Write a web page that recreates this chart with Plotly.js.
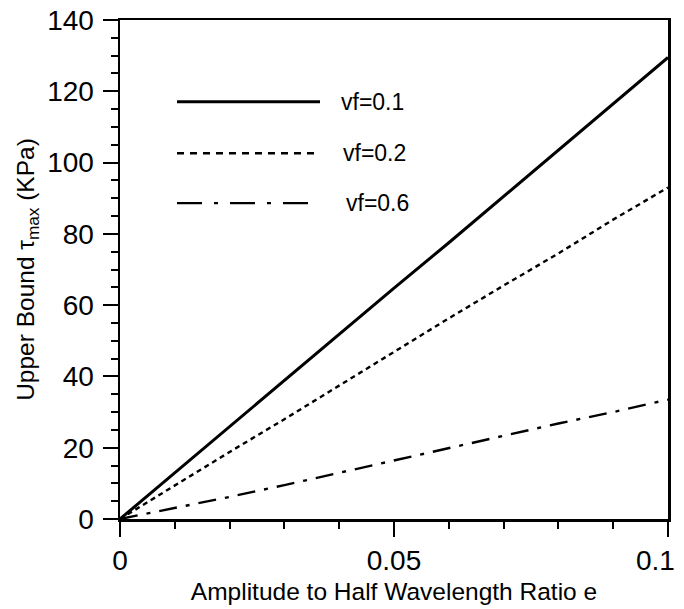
<!DOCTYPE html>
<html><head><meta charset="utf-8">
<script src="https://cdn.plot.ly/plotly-3.0.1.min.js"></script>
<style>body{margin:0;background:#fff}#plot{width:684px;height:609px}</style>
</head><body><div id="plot"></div>
<script>
const e = [0, 0.01, 0.02, 0.03, 0.04, 0.05, 0.06, 0.07, 0.08, 0.09, 0.1];
const vf01 = [0, 13, 26, 39, 52, 64.8, 77.5, 90.5, 103.5, 116.5, 129.5];
const vf02 = [0, 9.5, 18.8, 28, 37.5, 47, 56.3, 65.5, 74.5, 84, 93];
const vf06 = [0, 3, 6.2, 9.5, 13, 16.5, 20, 23.5, 26.8, 30, 33.5];
const seriesNames = ["vf=0.1", "vf=0.2", "vf=0.6"];
const xTickVals = [0, 0.05, 0.1];
const xTickText = ["0", "0.05", "0.1"];
const yTickVals = [0, 20, 40, 60, 80, 100, 120, 140];

const font = "Liberation Sans, Arial, Helvetica, sans-serif";
const dashes = ["solid", "5px,4px", "18px,9px,4px,9px"];
const legDashes = ["solid", "7px,6px", "25px,12px,4px,12px"];
const widths = [3, 2.4, 2.4];
const ys = [vf01, vf02, vf06];

const traces = ys.map((y, i) => ({
  x: e, y: y, type: "scatter", mode: "lines", name: seriesNames[i],
  line: {color: "#000", width: widths[i], dash: dashes[i]}, showlegend: false
}));

const legY = [0.836, 0.733, 0.633];
const shapes = [], annotations = [];
legY.forEach((yy, i) => {
  shapes.push({type: "line", xref: "paper", yref: "paper", x0: 0.104, x1: 0.365, y0: yy, y1: yy,
    line: {color: "#000", width: widths[i], dash: legDashes[i]}});
  annotations.push({xref: "paper", yref: "paper", x: 0.4 + (i === 2 ? 0.008 : (i === 1 ? 0.004 : 0)), y: yy,
    xanchor: "left", yanchor: "middle", text: seriesNames[i], showarrow: false,
    font: {family: font, size: 23, color: "#000"}});
});
// last x tick label, nudged left so it stays inside the page
const lastIdx = xTickVals.length - 1;
annotations.push({xref: "x", yref: "paper", x: xTickVals[lastIdx], y: 0, xanchor: "center", yanchor: "top",
  xshift: -13, yshift: -24, text: xTickText[lastIdx], showarrow: false,
  font: {family: font, size: 28, color: "#000"}});
const shownXText = xTickText.map((t, i) => i === lastIdx ? " " : t);

const layout = {
  width: 684, height: 609,
  margin: {l: 120, r: 16, t: 20, b: 90},
  paper_bgcolor: "#fff", plot_bgcolor: "#fff",
  font: {family: font, color: "#000"},
  xaxis: {
    range: [0, 0.1], tickvals: xTickVals, ticktext: shownXText,
    ticks: "outside", ticklen: 15, tickwidth: 2, tickcolor: "#000",
    minor: {dtick: 0.01, ticks: "outside", ticklen: 7, tickwidth: 2, tickcolor: "#000", showgrid: false},
    showline: true, linewidth: 2.5, linecolor: "#000", mirror: true,
    showgrid: false, zeroline: false,
    tickfont: {family: font, size: 28, color: "#000"},
    title: {text: "Amplitude to Half Wavelength Ratio e", font: {family: font, size: 24.5, color: "#000"}, standoff: 8}
  },
  yaxis: {
    range: [0, 140], tickvals: yTickVals,
    ticks: "outside", ticklen: 15, tickwidth: 2, tickcolor: "#000",
    minor: {dtick: 5, ticks: "outside", ticklen: 7, tickwidth: 2, tickcolor: "#000", showgrid: false},
    showline: true, linewidth: 2.5, linecolor: "#000", mirror: true,
    showgrid: false, zeroline: false,
    tickfont: {family: font, size: 28, color: "#000"},
    ticklabelstandoff: 3,
    title: {text: "Upper Bound τ<sub>max</sub> (KPa)", font: {family: font, size: 24.5, color: "#000"}, standoff: 6}
  },
  shapes: shapes, annotations: annotations, showlegend: false
};
Plotly.newPlot("plot", traces, layout, {staticPlot: true, displayModeBar: false});
</script></body></html>
